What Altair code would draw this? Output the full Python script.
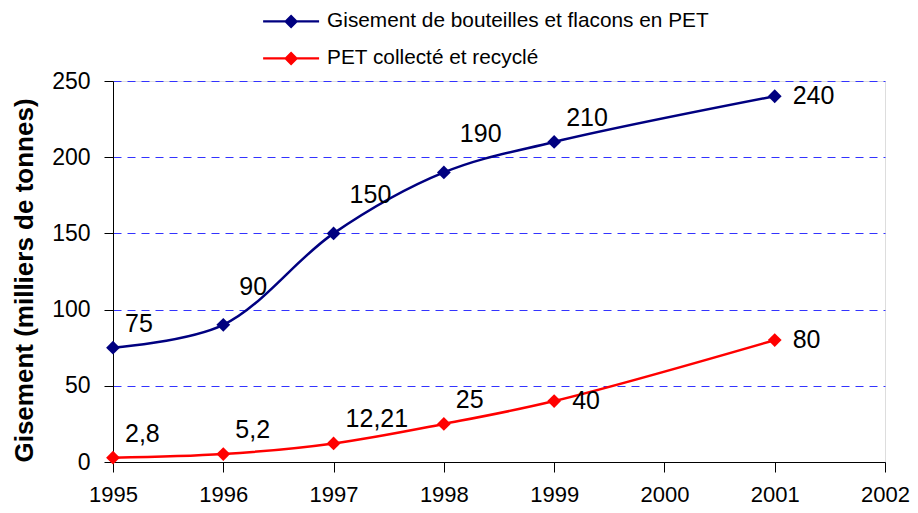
import altair as alt
import pandas as pd

# ---- data ----
years = [1995, 1996, 1997, 1998, 1999, 2001]
gisement = [75, 90, 150, 190, 210, 240]
pet_recycle = [2.8, 5.2, 12.21, 25, 40, 80]
series_names = ["Gisement de bouteilles et flacons en PET", "PET collecté et recyclé"]
series_colors = ["#000080", "#FF0000"]
# label placement class for each point (upper-right, high upper-right, right)
place_gisement = ["upper", "high", "high", "high", "upper", "right"]
place_pet = ["upper", "upper", "upper", "upper", "right", "right"]
x_ticks = [1995, 1996, 1997, 1998, 1999, 2000, 2001, 2002]
y_ticks = [0, 50, 100, 150, 200, 250]


def fr(v):
    return str(v).replace(".", ",")


rows = []
for name, vals, places in [(series_names[0], gisement, place_gisement),
                           (series_names[1], pet_recycle, place_pet)]:
    for yr, v, p in zip(years, vals, places):
        rows.append({"year": yr, "value": v, "series": name, "label": fr(v), "place": p})
df = pd.DataFrame(rows)

FONT = "Liberation Sans"

x = alt.X("year:Q",
          scale=alt.Scale(domain=[1995, 2002], nice=False, zero=False),
          axis=alt.Axis(values=x_ticks, format="d", title=None, grid=False,
                        labelFont=FONT, labelFontSize=22, labelColor="black",
                        labelPadding=12, tickSize=10, tickColor="black",
                        domainColor="black", labelFlush=False))
y = alt.Y("value:Q",
          scale=alt.Scale(domain=[0, 250], nice=False),
          axis=alt.Axis(values=y_ticks, title="Gisement (milliers de tonnes)",
                        grid=True, gridDash=[8, 6], gridColor="#3333ff", gridWidth=1,
                        labelFont=FONT, labelFontSize=23, labelColor="black",
                        labelPadding=14, tickSize=9, tickColor="black",
                        domainColor="black",
                        titleFont=FONT, titleFontSize=26, titleFontWeight="bold",
                        titleColor="black", titleAngle=270, titleAlign="center",
                        titleBaseline="middle", titleX=-89, titleY=199))

color_scale = alt.Scale(domain=series_names, range=series_colors)

base = alt.Chart(df)

lines = base.mark_line(interpolate="catmull-rom", strokeWidth=2.5).encode(
    x=x, y=y, color=alt.Color("series:N", scale=color_scale, legend=None),
    detail="series:N")

legend_path = "M-3,-0.13L3,-0.13L3,0.13L-3,0.13Z M0,-0.75L0.75,0L0,0.75L-0.75,0Z"

points = base.mark_point(shape="diamond", filled=True, size=190, opacity=1).encode(
    x=x, y=y,
    color=alt.Color("series:N", scale=color_scale,
                    legend=alt.Legend(title=None, orient="none", legendX=167.7, legendY=-70,
                                      direction="vertical", symbolType=legend_path,
                                      symbolSize=348, symbolStrokeWidth=0,
                                      labelOffset=25.6, rowPadding=15, padding=0,
                                      labelFont=FONT, labelFontSize=20.8, labelColor="black",
                                      labelLimit=600)))

text_common = dict(font=FONT, fontSize=25, color="black", align="left", baseline="middle")
lab_upper = base.transform_filter(alt.datum.place == "upper").mark_text(
    dx=12, dy=-24, **text_common).encode(x=x, y=y, text="label:N")
lab_high = base.transform_filter(alt.datum.place == "high").mark_text(
    dx=16, dy=-38, **text_common).encode(x=x, y=y, text="label:N")
lab_right = base.transform_filter(alt.datum.place == "right").mark_text(
    dx=18, dy=0, **text_common).encode(x=x, y=y, text="label:N")

chart = alt.layer(lines, points, lab_upper, lab_high, lab_right).resolve_legend(
    color="independent"
).properties(
    width=772, height=381,
    autosize=alt.AutoSizeParams(type="none"),
    padding={"left": 105, "top": 73, "right": 25, "bottom": 43},
).configure_view(stroke=None).configure(background="white")

chart.save("out.html", embed_options={"renderer": "svg", "actions": False})
